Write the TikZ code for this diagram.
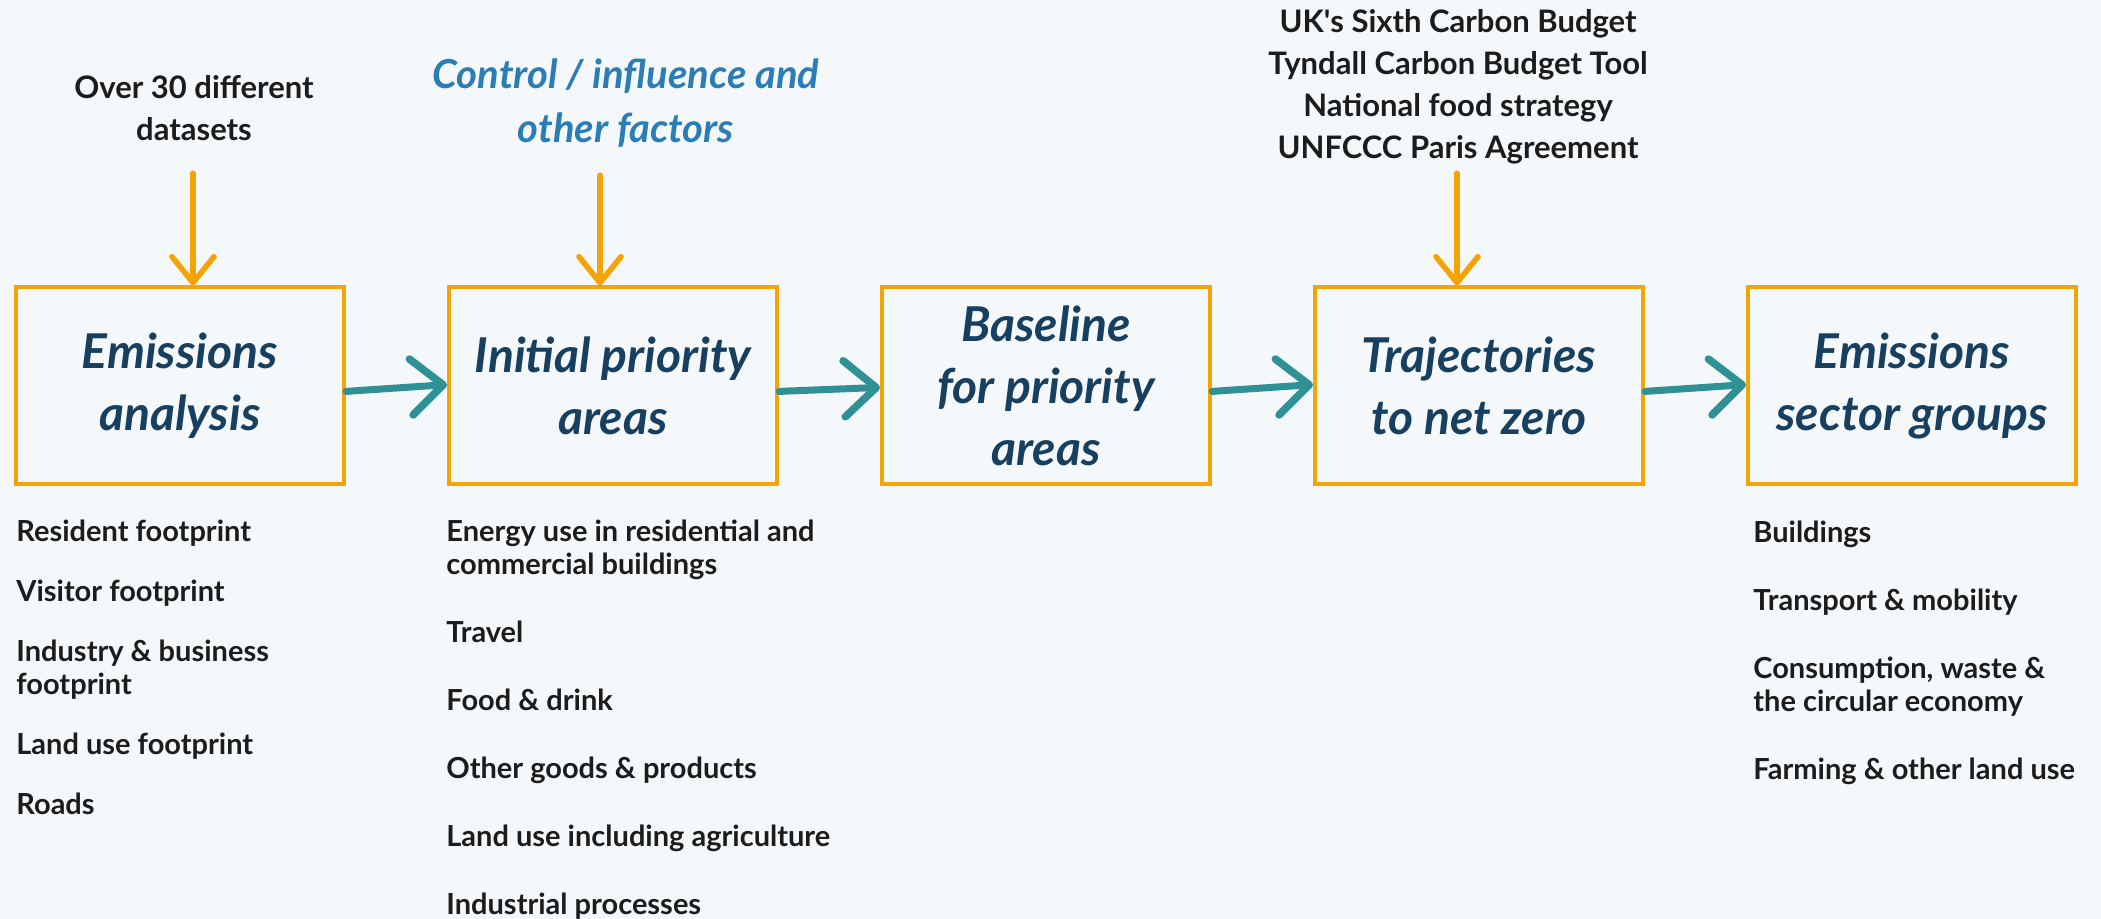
\documentclass[tikz,border=0pt]{standalone}
\usepackage{fontspec}
\setmainfont{Lato}
\usetikzlibrary{positioning,arrows.meta}
\definecolor{boxorange}{HTML}{F5A407}
\definecolor{flowteal}{HTML}{2F9196}
\definecolor{titlenavy}{HTML}{173F5F}
\definecolor{noteblue}{HTML}{2B7DB5}
\definecolor{paper}{HTML}{F4F8FA}
\definecolor{inktext}{HTML}{1C1C1C}
\begin{document}
\begin{tikzpicture}[x=0.5pt,y=-0.5pt]
\tikzset{stage/.style={draw=boxorange,line width=2pt,minimum width=164pt,minimum height=98.5pt,align=center,text=titlenavy,font=\fontsize{24}{31}\selectfont\bfseries\itshape}}
\tikzset{flow/.style={draw=flowteal,line width=3.5pt,line cap=round,-{Straight Barb[length=16pt,width=28pt,line width=3.8pt,round]}}}
\tikzset{feed/.style={draw=boxorange,line width=2.6pt,line cap=round,-{Straight Barb[length=13pt,width=21pt,line width=2.8pt,round]}}}
\tikzset{source/.style={align=center,text=inktext,font=\fontsize{15.5}{21}\selectfont\bfseries}}
\tikzset{items/.style={align=left,anchor=north west,inner sep=0pt,text=inktext,font=\fontsize{14.5}{16.5}\selectfont\bfseries}}
\fill[paper] (0,0) rectangle (2101,919);
\useasboundingbox (0,0) rectangle (2101,919);
% stages
\node[stage] (emis) at (180,386) {Emissions\\analysis};
\node[stage,right=50.5pt of emis] (prio) {Initial priority\\areas};
\node[stage,right=50.5pt of prio] (base) {Baseline\\for priority\\areas};
\node[stage,right=50.5pt of base] (traj) {Trajectories\\to net zero};
\node[stage,right=50.5pt of traj] (sect) {Emissions\\sector groups};
% flow between stages
\draw[flow] ([yshift=-2.7pt]emis.east) -- ([yshift=0.7pt]prio.west);
\draw[flow] ([yshift=-2.7pt]prio.east) -- ([yshift=-0.7pt]base.west);
\draw[flow] ([yshift=-2.7pt]base.east) -- ([yshift=0.7pt]traj.west);
\draw[flow] ([yshift=-2.7pt]traj.east) -- ([yshift=0.7pt]sect.west);
% inputs from above
\node[source] (sets) at (194,108) {Over 30 different\\datasets};
\node[source,text=noteblue,font=\fontsize{20}{27}\selectfont\bfseries\itshape] (ctrl) at (626,103) {Control / influence and\\other factors};
\node[source] (budg) at (1458,87) {UK\textquotesingle s Sixth Carbon Budget\\Tyndall Carbon Budget Tool\\National food strategy\\UNFCCC Paris Agreement};
\coordinate (inA) at (193,173);
\coordinate (inB) at (600,175);
\coordinate (inC) at (1457,173);
\draw[feed] (inA) -- (inA |- emis.north);
\draw[feed] (inB) -- (inB |- prio.north);
\draw[feed] (inC) -- (inC |- traj.north);
% lists below
\node[items] (emislist) at (16,520) {Resident footprint\\[13.5pt]Visitor footprint\\[13.5pt]Industry \& business\\footprint\\[13.5pt]Land use footprint\\[13.5pt]Roads};
\node[items] (priolist) at (446,520) {Energy use in residential and\\commercial buildings\\[17.5pt]Travel\\[17.5pt]Food \& drink\\[17.5pt]Other goods \& products\\[17.5pt]Land use including agriculture\\[17.5pt]Industrial processes};
\node[items] (sectlist) at (1753,521) {Buildings\\[17.5pt]Transport \& mobility\\[17.5pt]Consumption, waste \&\\the circular economy\\[17.5pt]Farming \& other land use};
\end{tikzpicture}
\end{document}
